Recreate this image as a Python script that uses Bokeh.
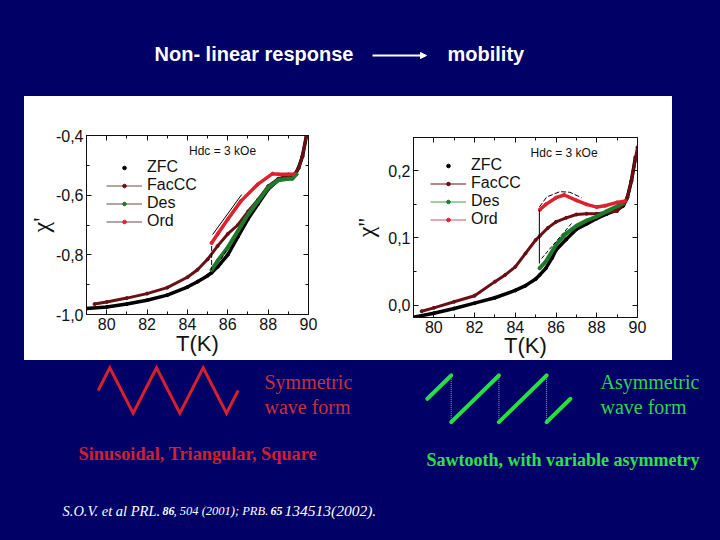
from bokeh.plotting import figure
from bokeh.embed import file_html
from bokeh.resources import INLINE
from bokeh.layouts import column, row
from bokeh.models import (Label, Legend, LegendItem, LinearAxis, FixedTicker, Range1d, Spacer,
                          Arrow, NormalHead)

NAVY = "#000066"
SANS = "Liberation Sans"
SERIF = "Liberation Serif"

# left panel: chi'
t1_zfc = [79, 80, 81, 82, 83, 84, 84.5, 85, 85.2, 85.5, 86, 86.5, 87, 87.5, 88, 88.5, 89, 89.3, 89.5, 89.7, 89.9]
c1_zfc = [-0.98, -0.975, -0.965, -0.952, -0.935, -0.908, -0.89, -0.87, -0.86, -0.84, -0.80, -0.74, -0.68, -0.63, -0.58, -0.55, -0.54, -0.535, -0.51, -0.47, -0.40]
t1_fac = [79.4, 80, 81, 82, 83, 84, 84.5, 85, 85.5, 86, 86.5, 87, 87.5, 88, 88.5, 89, 89.3, 89.5, 89.7, 89.9]
c1_fac = [-0.965, -0.958, -0.945, -0.93, -0.91, -0.875, -0.85, -0.815, -0.77, -0.73, -0.70, -0.655, -0.615, -0.57, -0.545, -0.535, -0.53, -0.51, -0.47, -0.40]
t1_des = [85.2, 85.5, 86, 86.5, 87, 87.5, 88, 88.5, 89, 89.2, 89.4]
c1_des = [-0.85, -0.82, -0.775, -0.72, -0.665, -0.62, -0.575, -0.55, -0.545, -0.545, -0.53]
t1_ord = [85.2, 85.5, 86, 86.65, 87.48, 88.22, 88.5, 89, 89.3]
c1_ord = [-0.76, -0.73, -0.681, -0.62, -0.564, -0.528, -0.53, -0.53, -0.53]
g1_solid_x = [85.25, 86.69]
g1_solid_y = [-0.732, -0.598]
g1_dash_x = [85.2, 85.2]
g1_dash_y = [-0.77, -0.85]
g1_dash2_x = [85.66, 85.94]
g1_dash2_y = [-0.815, -0.784]

# right panel: chi''
t2_zfc = [79, 80, 81, 82, 83, 84, 84.5, 85, 85.2, 85.5, 85.8, 86, 86.5, 87, 87.5, 88, 88.5, 89, 89.3, 89.5, 89.7, 89.9]
c2_zfc = [-0.018, -0.012, -0.005, 0.003, 0.011, 0.022, 0.029, 0.039, 0.045, 0.055, 0.07, 0.082, 0.098, 0.113, 0.121, 0.129, 0.136, 0.142, 0.148, 0.16, 0.185, 0.22]
t2_fac = [79.4, 80, 81, 82, 83, 83.5, 84, 84.5, 85, 85.2, 85.6, 86, 86.5, 87, 87.5, 88, 88.5, 89, 89.3, 89.5, 89.7, 90]
c2_fac = [-0.009, -0.004, 0.005, 0.014, 0.035, 0.045, 0.057, 0.077, 0.097, 0.103, 0.115, 0.124, 0.13, 0.135, 0.136, 0.136, 0.138, 0.14, 0.15, 0.16, 0.185, 0.235]
t2_des = [85.2, 85.5, 86, 86.5, 87, 87.5, 88, 88.5, 89, 89.3]
c2_des = [0.055, 0.065, 0.09, 0.107, 0.118, 0.126, 0.132, 0.14, 0.147, 0.152]
t2_ord = [85.2, 85.5, 86, 86.4, 87, 87.5, 88, 88.4, 89, 89.4]
c2_ord = [0.142, 0.15, 0.16, 0.164, 0.156, 0.15, 0.146, 0.148, 0.153, 0.155]
g2_solid_x = [85.18, 85.18]
g2_solid_y = [0.1414, 0.062]
g2_arc_x = [85.18, 85.54, 86.19, 86.68, 87.25]
g2_arc_y = [0.146, 0.161, 0.169, 0.168, 0.16]
g2_dash_x = [85.29, 86.76]
g2_dash_y = [0.0695, 0.1216]

x_ticks = [80, 82, 84, 86, 88, 90]
x_minor = [79, 81, 83, 85, 87, 89]
y1_ticks = [-1.0, -0.8, -0.6, -0.4]
y1_labels = ["-1,0", "-0,8", "-0,6", "-0,4"]
y1_minor = [-0.9, -0.7, -0.5]
y2_ticks = [0.0, 0.1, 0.2]
y2_labels = ["0,0", "0,1", "0,2"]
y2_minor = [0.05, 0.15]

# waveforms
sym_t = [0, 0.25, 0.75, 1.25, 1.75, 2.25, 2.75, 3.0]
sym_v = [0, 1, -1, 1, -1, 1, -1, 0]
saw_t = [[0.5, 1], [1, 2], [2, 3], [3, 3.5]]
saw_v = [[0, 1], [-1, 1], [-1, 1], [-1, 0]]
saw_jump_t = [1, 2, 3]


def panel(left, top, right, bottom, ybounds, yt, yl, ym, ylabel, ystand, xstand, series, guides, legloc, hdc):
    p = figure(width=324, height=264, x_range=Range1d(79, 90), y_range=Range1d(*ybounds),
               output_backend="svg", toolbar_location=None,
               min_border_left=left, min_border_right=right, min_border_top=top, min_border_bottom=bottom,
               background_fill_color="white", border_fill_color="white", outline_line_color="#111111")
    p.grid.visible = False
    xax, yax = p.xaxis[0], p.yaxis[0]
    xtop = LinearAxis()
    yright = LinearAxis()
    p.add_layout(xtop, "above")
    p.add_layout(yright, "right")
    for ax, ticks, minor in ((xax, x_ticks, x_minor), (xtop, x_ticks, x_minor), (yax, yt, ym), (yright, yt, ym)):
        ax.ticker = FixedTicker(ticks=ticks, minor_ticks=minor)
        ax.major_tick_in, ax.major_tick_out = 5, 0
        ax.minor_tick_in, ax.minor_tick_out = 3, 0
        ax.axis_line_color = "#111111"
        ax.major_tick_line_color = "#111111"
        ax.minor_tick_line_color = "#111111"
        ax.major_label_text_font = SANS
        ax.major_label_text_font_size = "16px"
        ax.major_label_text_color = "#111111"
    xtop.major_label_overrides = {t: "" for t in x_ticks}
    yright.major_label_overrides = {t: "" for t in yt}
    xax.major_label_overrides = {t: str(t) for t in x_ticks}
    yax.major_label_overrides = dict(zip(yt, yl))
    yax.major_label_orientation = "horizontal"
    xax.major_label_standoff = 3
    yax.major_label_standoff = 3
    xax.axis_label = "T(K)"
    xax.axis_label_text_font = SANS
    xax.axis_label_text_font_size = "22px"
    xax.axis_label_text_font_style = "normal"
    xax.axis_label_text_color = "#111111"
    xax.axis_label_standoff = xstand
    yax.axis_label = ylabel
    yax.axis_label_text_font = SERIF
    yax.axis_label_text_font_size = "24px"
    yax.axis_label_text_font_style = "normal"
    yax.axis_label_text_color = "#111111"
    yax.axis_label_standoff = ystand

    items = []
    for name, tx, cy, color, lw, show_line, leg_line in series:
        rs = []
        if show_line:
            rs.append(p.line(tx, cy, line_color=leg_line, line_width=1))
        p.line(tx, cy, line_color=color, line_width=lw, line_join="round", line_cap="round")
        rs.append(p.scatter(tx, cy, size=3, color=color))
        items.append(LegendItem(label=name, renderers=rs))
    for gx, gy, dash, width in guides:
        p.line(gx, gy, line_color="black", line_width=width, line_dash=dash)
    leg = Legend(items=items, location=legloc, background_fill_alpha=0, border_line_alpha=0,
                 margin=0, padding=0, spacing=0, glyph_width=36, glyph_height=9, label_height=17,
                 label_standoff=5, label_text_font=SANS, label_text_font_size="16px", label_text_color="#111111")
    p.add_layout(leg, "center")
    p.add_layout(Label(x=hdc[0], y=hdc[1], text="Hdc = 3 kOe", text_font=SANS, text_font_size="12px",
                       text_baseline="middle", text_color="#111111"))
    return p


ZFC, FAC, DES, ORD = "black", "#6a0f14", "#1d7a2a", "#e0202c"
LEG = "#6b4a4a"
c1 = panel(62, 39, 40, 46, (-1.0, -0.4), y1_ticks, y1_labels, y1_minor, "χ'", -1, -2,
           [("ZFC", t1_zfc, c1_zfc, ZFC, 3.5, False, ZFC), ("FacCC", t1_fac, c1_fac, FAC, 3, True, LEG),
            ("Des", t1_des, c1_des, DES, 4, True, LEG), ("Ord", t1_ord, c1_ord, ORD, 3.5, True, LEG)],
           [(g1_solid_x, g1_solid_y, "solid", 1), (g1_dash_x, g1_dash_y, "5 2", 1), (g1_dash2_x, g1_dash2_y, "4 2", 1)],
           (20, 84), (84.08, -0.4525))
c2 = panel(65, 41, 35, 43, (-0.0184, 0.2496), y2_ticks, y2_labels, y2_minor, "χ''", 6, -3,
           [("ZFC", t2_zfc, c2_zfc, ZFC, 3.5, False, ZFC), ("FacCC", t2_fac, c2_fac, FAC, 3, True, FAC),
            ("Des", t2_des, c2_des, DES, 4, True, "#3f9f4f"), ("Ord", t2_ord, c2_ord, ORD, 3.5, True, "#d05060")],
           [(g2_solid_x, g2_solid_y, "solid", 1), (g2_arc_x, g2_arc_y, "5 2", 1), (g2_dash_x, g2_dash_y, "4 2", 1)],
           (17, 89), (84.75, 0.2258))


def banner(w, h, y0):
    p = figure(width=w, height=h, x_range=Range1d(0, w), y_range=Range1d(y0 + h, y0),
               x_axis_location=None, y_axis_location=None, output_backend="svg", toolbar_location=None,
               min_border=0, background_fill_color=NAVY, border_fill_color=NAVY, outline_line_color=None)
    p.grid.visible = False
    return p


def txt(p, x, y, s, color, font, size, style="normal"):
    p.add_layout(Label(x=x, y=y, text=s, text_color=color, text_font=font, text_font_size=size,
                       text_font_style=style, text_baseline="middle"))


top = banner(720, 96, 0)
txt(top, 154, 53, "Non- linear response", "white", SANS, "20px", "bold")
txt(top, 447, 53, "mobility", "white", SANS, "20px", "bold")
top.add_layout(Arrow(x_start=372, y_start=55, x_end=426, y_end=55, line_color="white", line_width=2,
                     end=NormalHead(size=6, fill_color="white", line_color="white")))

bot = banner(720, 180, 360)
# wave scales: time in periods and amplitude, mapped onto the strip below the plots
bot.extra_x_ranges = {"sym": Range1d(-97.67 / 46.67, (720 - 97.67) / 46.67),
                      "saw": Range1d(1 - 450.7 / 47.7, 1 + (720 - 450.7) / 47.7)}
bot.extra_y_ranges = {"sym": Range1d(-(540 - 390) / 22.67, 30 / 22.67),
                      "saw": Range1d(-(540 - 398.3) / 23.33, 38.3 / 23.33)}
bot.line(sym_t, sym_v, x_range_name="sym", y_range_name="sym", line_color="#d6202c", line_width=3, line_join="miter")
bot.multi_line([[t, t] for t in saw_jump_t], [[-1, 1] for t in saw_jump_t], x_range_name="saw", y_range_name="saw",
               line_color="#8f9fc0", line_width=1, line_dash="1 1")
bot.multi_line(saw_t, saw_v, x_range_name="saw", y_range_name="saw", line_color="#25e040", line_width=4, line_cap="round")

RED = "#c4323f"
GRN = "#35d050"
txt(bot, 264, 381.5, "Symmetric", RED, SERIF, "20px")
txt(bot, 264, 406, "wave form", RED, SERIF, "20px")
txt(bot, 600, 381.5, "Asymmetric", GRN, SERIF, "20px")
txt(bot, 600, 406, "wave form", GRN, SERIF, "20px")
txt(bot, 78, 453, "Sinusoidal, Triangular, Square", "#d0202c", SERIF, "18.3px", "bold")
txt(bot, 426, 459, "Sawtooth, with variable asymmetry", "#30e04a", SERIF, "18px", "bold")
txt(bot, 62, 510, "S.O.V. et al PRL.", "white", SERIF, "14.5px", "italic")
txt(bot, 162, 510, "86", "white", SERIF, "12px", "bold italic")
txt(bot, 173, 510, ", 504 (2001); PRB.", "white", SERIF, "12.5px", "italic")
txt(bot, 270, 510, "65", "white", SERIF, "12px", "bold italic")
txt(bot, 284, 510, "134513(2002).", "white", SERIF, "15.5px", "italic")

charts = row(column(c1), column(c2), styles={"background": "white"})
page = column(top, row(Spacer(width=24, height=264), charts), bot)
html = file_html(page, INLINE)
html = html.replace("<head>", "<head><style>html,body{background:%s;overflow:hidden;}</style>" % NAVY, 1)
open("out.html", "w").write(html)
